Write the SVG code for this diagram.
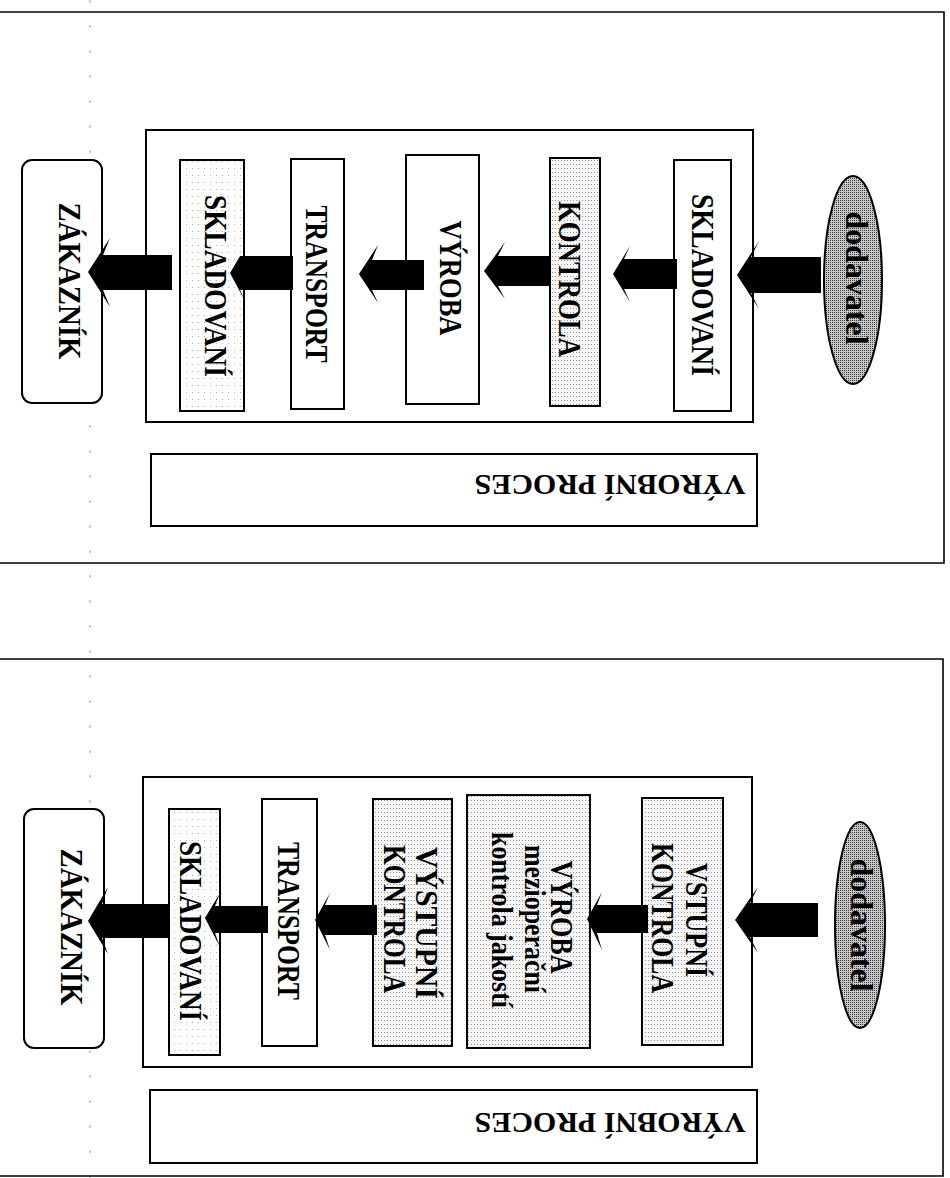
<svg xmlns="http://www.w3.org/2000/svg" width="950" height="1178" viewBox="0 0 950 1178">
  <defs>
    <!-- halftone textures -->
    <pattern id="stipple" width="2" height="2" patternUnits="userSpaceOnUse">
      <rect width="2" height="2" fill="#c8c8c8"/>
      <rect width="1" height="1" fill="#3a3a3a"/>
    </pattern>
    <pattern id="dots" width="3" height="4" patternUnits="userSpaceOnUse">
      <rect width="3" height="4" fill="#f6f6f6"/>
      <rect width="1" height="1" fill="#9a9a9a"/>
    </pattern>
    <pattern id="sparse" width="6" height="7" patternUnits="userSpaceOnUse">
      <rect width="6" height="7" fill="#ffffff"/>
      <rect width="1" height="1" fill="#b0b0b0"/>
    </pattern>
    <style>
      .frame { fill: none; stroke: #000; stroke-width: 1.6; }
      .box { stroke: #000; stroke-width: 2; }
      .open { fill: none; }
      .plain { fill: #fff; }
      .dotted { fill: url(#dots); }
      .sparse { fill: url(#sparse); }
      .oval { fill: url(#stipple); stroke: #000; stroke-width: 2; }
      .lbl { font-family: "Liberation Serif", "Times New Roman", serif; font-weight: bold; font-size: 32px; fill: #000; }
      .title { font-size: 30px; }
      .small { font-size: 30px; }
      .arrow { fill: #000; stroke: none; }
      .fold { stroke: #9a9a9a; stroke-width: 1; stroke-dasharray: 3 22; fill: none; }
    </style>
  </defs>

  <rect width="950" height="1178" fill="#fff"/>

  <!-- faint fold line of the sheet -->
  <line class="fold" x1="90" y1="0" x2="90" y2="1178"/>

  <!-- ===== upper scheme ===== -->
  <g id="frame-top">
    <polyline class="frame" points="0,12 944,12 944,563 0,563"/>
  </g>
  <g id="process-top">
    <rect class="box open" x="146" y="130" width="607" height="292"/>
  </g>
  <g id="title-top">
    <rect class="box plain" x="151" y="454" width="606" height="72"/>
    <text class="lbl title" transform="translate(610,475) rotate(180)" text-anchor="middle" textLength="271" lengthAdjust="spacingAndGlyphs">VÝROBNÍ PROCES</text>
  </g>
  <g id="customer-top">
    <rect class="box plain" x="22" y="160" width="80" height="243" rx="10"/>
    <text class="lbl" transform="translate(59,281) rotate(90)" text-anchor="middle" textLength="157" lengthAdjust="spacingAndGlyphs">ZÁKAZNÍK</text>
  </g>
  <g id="store-out-top">
    <rect class="box sparse" x="180" y="160" width="64" height="251"/>
    <text class="lbl" transform="translate(205,286) rotate(90)" text-anchor="middle" textLength="182" lengthAdjust="spacingAndGlyphs">SKLADOVANÍ</text>
  </g>
  <g id="transport-top">
    <rect class="box plain" x="291" y="159" width="53" height="250"/>
    <text class="lbl" transform="translate(306,284) rotate(90)" text-anchor="middle" textLength="157" lengthAdjust="spacingAndGlyphs">TRANSPORT</text>
  </g>
  <g id="production-top">
    <rect class="box plain" x="406" y="155" width="73" height="249"/>
    <text class="lbl" transform="translate(440,278) rotate(90)" text-anchor="middle" textLength="115" lengthAdjust="spacingAndGlyphs">VÝROBA</text>
  </g>
  <g id="control-top">
    <rect class="box dotted" x="550" y="158" width="50" height="248"/>
    <text class="lbl" transform="translate(559,279) rotate(90)" text-anchor="middle" textLength="156" lengthAdjust="spacingAndGlyphs">KONTROLA</text>
  </g>
  <g id="store-in-top">
    <rect class="box plain" x="674" y="160" width="57" height="251"/>
    <text class="lbl" transform="translate(692,285) rotate(90)" text-anchor="middle" textLength="182" lengthAdjust="spacingAndGlyphs">SKLADOVANÍ</text>
  </g>
  <g id="supplier-top">
    <ellipse class="oval" cx="853" cy="280" rx="29" ry="104"/>
    <text class="lbl" transform="translate(846,278) rotate(90)" text-anchor="middle" textLength="133" lengthAdjust="spacingAndGlyphs">dodavatel</text>
  </g>

  <!-- ===== lower scheme ===== -->
  <g id="frame-bottom">
    <polyline class="frame" points="0,659 943,659 943,1176 0,1176"/>
  </g>
  <g id="process-bottom">
    <rect class="box open" x="143" y="777" width="609" height="290"/>
  </g>
  <g id="title-bottom">
    <rect class="box plain" x="150" y="1090" width="607" height="73"/>
    <text class="lbl title" transform="translate(610,1113) rotate(180)" text-anchor="middle" textLength="271" lengthAdjust="spacingAndGlyphs">VÝROBNÍ PROCES</text>
  </g>
  <g id="customer-bottom">
    <rect class="box plain" x="24" y="809" width="80" height="239" rx="10"/>
    <text class="lbl" transform="translate(61,927) rotate(90)" text-anchor="middle" textLength="157" lengthAdjust="spacingAndGlyphs">ZÁKAZNÍK</text>
  </g>
  <g id="store-bottom">
    <rect class="box sparse" x="169" y="809" width="51" height="246"/>
    <text class="lbl" transform="translate(180,931) rotate(90)" text-anchor="middle" textLength="180" lengthAdjust="spacingAndGlyphs">SKLADOVANÍ</text>
  </g>
  <g id="transport-bottom">
    <rect class="box plain" x="262" y="799" width="55" height="247"/>
    <text class="lbl" transform="translate(278,921) rotate(90)" text-anchor="middle" textLength="158" lengthAdjust="spacingAndGlyphs">TRANSPORT</text>
  </g>
  <g id="output-control">
    <rect class="box dotted" x="373" y="799" width="79" height="247"/>
    <text class="lbl" transform="translate(416,923) rotate(90)" text-anchor="middle" textLength="152" lengthAdjust="spacingAndGlyphs">VÝSTUPNÍ</text>
    <text class="lbl" transform="translate(384,919) rotate(90)" text-anchor="middle" textLength="148" lengthAdjust="spacingAndGlyphs">KONTROLA</text>
  </g>
  <g id="production-bottom">
    <rect class="box dotted" x="467" y="795" width="123" height="253"/>
    <text class="lbl" transform="translate(551,917) rotate(90)" text-anchor="middle" textLength="113" lengthAdjust="spacingAndGlyphs">VÝROBA</text>
    <text class="lbl small" transform="translate(525,919) rotate(90)" text-anchor="middle" textLength="148" lengthAdjust="spacingAndGlyphs">mezioperační</text>
    <text class="lbl small" transform="translate(492,920) rotate(90)" text-anchor="middle" textLength="176" lengthAdjust="spacingAndGlyphs">kontrola jakostí</text>
  </g>
  <g id="input-control">
    <rect class="box dotted" x="642" y="798" width="81" height="247"/>
    <text class="lbl" transform="translate(686,920) rotate(90)" text-anchor="middle" textLength="114" lengthAdjust="spacingAndGlyphs">VSTUPNÍ</text>
    <text class="lbl" transform="translate(652,918) rotate(90)" text-anchor="middle" textLength="150" lengthAdjust="spacingAndGlyphs">KONTROLA</text>
  </g>
  <g id="supplier-bottom">
    <ellipse class="oval" cx="860" cy="925" rx="25" ry="103"/>
    <text class="lbl" transform="translate(851,925) rotate(90)" text-anchor="middle" textLength="133" lengthAdjust="spacingAndGlyphs">dodavatel</text>
  </g>

  <!-- block arrows: tip, upper barb, neck, tail ... -->
  <g id="connectors">
    <polygon class="arrow" points="737,275 759,241 751,257 821,257 821,293 751,293 759,309"/>
    <polygon class="arrow" points="613,274 630,246 624,259 677,259 677,289 624,289 630,302"/>
    <polygon class="arrow" points="484,271 505,242 498,256 551,256 551,286 498,286 505,299"/>
    <polygon class="arrow" points="359,274 378,245 372,260 424,260 424,290 372,290 378,303"/>
    <polygon class="arrow" points="230,273 246,246 240,256 293,256 293,290 240,290 246,303"/>
    <polygon class="arrow" points="88,272 110,238 103,255 172,255 172,290 103,290 110,307"/>

    <polygon class="arrow" points="735,920 758,887 750,903 818,903 818,937 750,937 758,953"/>
    <polygon class="arrow" points="587,919 602,892 597,905 648,905 648,933 597,933 602,950"/>
    <polygon class="arrow" points="315,920 330,893 325,905 377,905 377,935 325,935 330,950"/>
    <polygon class="arrow" points="205,918 220,893 215,906 268,906 268,933 215,933 220,947"/>
    <polygon class="arrow" points="88,921 108,887 102,904 170,904 170,938 102,938 108,954"/>
  </g>
</svg>
